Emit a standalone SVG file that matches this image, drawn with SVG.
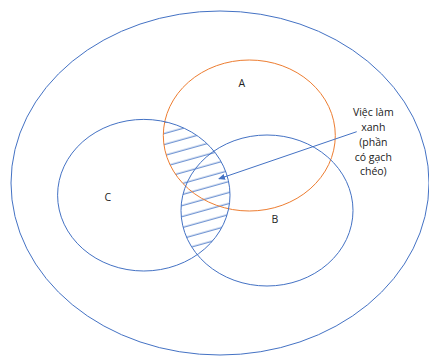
<svg xmlns="http://www.w3.org/2000/svg" width="429" height="356" viewBox="0 0 429 356">
<style>
.blue{fill:none;stroke:#4472C4;stroke-width:1}
.orange{fill:none;stroke:#ED7D31;stroke-width:1}
.lbl{font-family:"Open Sans","Liberation Sans",sans-serif;font-size:10.5px;fill:#222;text-anchor:middle}
</style>
<defs>
<pattern id="hatch" patternUnits="userSpaceOnUse" width="60" height="10.6" patternTransform="rotate(-15.6)">
<line x1="0" y1="3.2" x2="60" y2="3.2" stroke="#4472C4" stroke-width="1"/>
</pattern>
<clipPath id="clipC"><ellipse cx="143.8" cy="195.2" rx="86.2" ry="75.8"/></clipPath>
<clipPath id="clipAB">
<ellipse cx="249.3" cy="135.5" rx="86" ry="75.5"/>
<ellipse cx="267" cy="210.5" rx="86" ry="75.5"/>
</clipPath>
<marker id="arr" markerWidth="8" markerHeight="8" refX="6" refY="3" orient="auto" markerUnits="userSpaceOnUse">
<path d="M0,0 L7,3 L0,6 Z" fill="#4472C4"/>
</marker>
</defs>
<rect width="429" height="356" fill="#fff"/>
<g id="universe"><ellipse class="blue" cx="220" cy="183" rx="209" ry="172"/></g>
<g id="hatched-region" clip-path="url(#clipC)">
<rect x="140" y="100" width="120" height="180" fill="url(#hatch)" clip-path="url(#clipAB)"/>
</g>
<g id="setA"><ellipse class="orange" cx="249.3" cy="135.5" rx="86" ry="75.5"/><text class="lbl" x="241.7" y="86.5">A</text></g>
<g id="setC"><ellipse class="blue" cx="143.8" cy="195.2" rx="86.2" ry="75.8"/><text class="lbl" x="107.7" y="200.5">C</text></g>
<g id="setB"><ellipse class="blue" cx="267" cy="210.5" rx="86" ry="75.5"/><text class="lbl" x="275" y="223">B</text></g>
<g id="label">
<text class="lbl" x="373.3" y="116">Việc làm</text>
<text class="lbl" x="373.3" y="131">xanh</text>
<text class="lbl" x="373.3" y="145.5">(phần</text>
<text class="lbl" x="373.3" y="160.5">có gạch</text>
<text class="lbl" x="373.3" y="175">chéo)</text>
</g>
<g id="connectors">
<line class="blue" x1="356.7" y1="131.7" x2="219" y2="178.8" marker-end="url(#arr)"/>
</g>
</svg>
